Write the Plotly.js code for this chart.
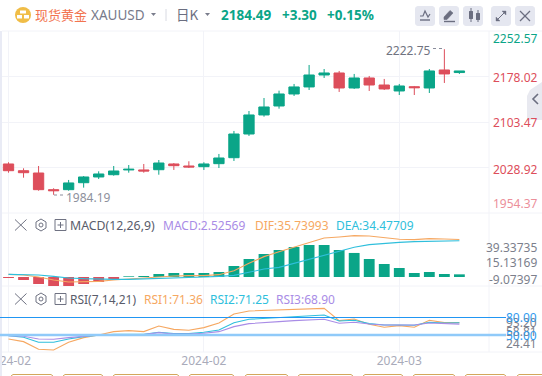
<!DOCTYPE html>
<html><head><meta charset="utf-8">
<script src="https://cdn.plot.ly/plotly-3.0.1.min.js"></script>
<style>html,body{margin:0;padding:0;background:#fff;overflow:hidden}#c{width:542px;height:376px}</style>
</head><body><div id="c"></div>
<script>
const index=[0,1,2,3,4,5,6,7,8,9,10,11,12,13,14,15,16,17,18,19,20,21,22,23,24,25,26,27,28,29,30];
const open=[2034.7,2023.7,2019.9,1992.6,1992.6,2004,2013.4,2017.1,2024.9,2024.9,2025.3,2034.7,2031.4,2030.3,2035.2,2045,2083.8,2115,2129.7,2149.4,2160.9,2180.5,2183.8,2159.2,2175.6,2164.1,2154.3,2161.3,2159.2,2188.7,2184.49];
const high=[2037.5,2027.6,2031.4,1994.9,2008.5,2015,2022.7,2031.4,2033,2034.7,2041.2,2036.3,2039.1,2037.5,2051.1,2088.8,2121.5,2142.8,2154.8,2165.8,2196.9,2190.3,2187.1,2182.2,2178.9,2174,2165.8,2162.5,2190.3,2222.75,2187.1];
const low=[2020.4,2012.2,1990.9,1984.19,1990.9,1995.9,2010.1,2015.5,2020.4,2020.4,2017.1,2024.9,2028.1,2024.9,2028.1,2039.6,2080.6,2112.2,2125.3,2146.1,2155.9,2175.6,2152.7,2157.6,2154.3,2155.9,2147.7,2147.7,2151,2167.4,2182.2];
const close=[2023.7,2020.4,1992.6,1990.9,2003.6,2013.4,2018.3,2023.2,2026,2023.2,2036.3,2031.9,2029.8,2034.7,2044.5,2083.8,2115,2128.1,2149.4,2160.9,2180.5,2183.8,2159.2,2175.6,2164.1,2157.6,2162.5,2159.7,2187.1,2182.2,2187.1];
const macdHist=[-0.95,-2.86,-6.67,-8.57,-8.57,-6.67,-4.76,-1.9,0.64,0.95,2.86,3.81,3.81,3.81,4.76,10.48,17.15,21.9,25.7,28.6,30.5,30.5,25.7,22.9,17.15,12.4,8.57,3.81,4.76,2.86,2.53];
const dif=[2.54,1.9,0,-2.86,-4.76,-4.76,-4.13,-2.86,-1.9,-0.95,0.32,0.95,1.27,1.27,2.22,6.03,13,19.4,24.1,28.3,32.7,37.1,38.1,39.4,39.1,37.5,35.9,35.6,36.5,36.2,35.74];
const dea=[2.54,2.54,1.9,0.64,-0.95,-1.59,-2.22,-2.22,-2.22,-1.9,-1.59,-0.95,-0.64,0,0.64,1.59,4.45,7.62,9.2,13,16.8,21,25.1,28.3,30.8,32.1,33,33.7,34,34.3,34.48];
const rsi1=[43.07,38.45,25.16,24,37.3,45.4,50,55.8,57.5,55.8,65.6,59.8,58.1,62.7,70.8,86.4,91.6,92.7,93.9,94.5,95.6,96.2,74.8,77.7,68.5,63.3,66.2,63.3,75.4,71.4,71.36];
const rsi2=[48.84,45.96,37.29,37.29,43.07,47.11,49.42,51.16,51.16,51.16,54.62,52.31,52.31,54.62,58.67,71.38,77.15,78.89,80.62,81.77,83.5,84.66,74.26,75.42,69.64,67.33,67.33,66.75,71.95,70.8,71.25];
const rsi3=[48.84,47.69,43.07,42.49,45.38,47.69,50,50.58,50.58,50.58,54.04,51.73,51.73,52.89,55.78,64.44,69.64,71.95,73.11,74.84,75.78,77.15,70.22,71.95,69.06,67.33,67.33,67.33,70.8,69.64,68.9];
const priceTicks=[2252.57,2178.02,2103.47,2028.92,1954.37];
const macdTicks=["39.33735","15.13169","-9.07397"];
const rsiTicks=["93.20","58.81","24.41"];
const rsiLevels=["80.00","50.00"];
const dateTicks=[0,13,26];
const dateLabels=["2024-02","2024-02","2024-03"];

const W=542,H=376,PW=489;
const GREEN="#0aa588",RED="#dd4e5b",GRID="#f2f3f8",ORANGE="#f6a862",CYAN="#2fbfdc",PURPLE="#a98ce6";
const px=x=>x/PW, py=y=>1-y/H;
const FONT='"Noto Sans","Noto Sans CJK SC",sans-serif';
const annotations=[],shapes=[];
function T(text,x,y,size,color,anchor,bold,family){annotations.push({text:bold?'<b>'+text+'</b>':text,xref:'paper',yref:'paper',x:px(x),y:py(y),xanchor:anchor||'left',yanchor:'middle',showarrow:false,font:{size:size,color:color,family:family||FONT},borderpad:0,borderwidth:0,align:anchor||'left'});}
function path(pts,opt){const d=pts.map((p,i)=>(i?'L':'M')+px(p[0])+','+py(p[1])).join(' ')+(opt&&opt.close?' Z':'');shapes.push({type:'path',xref:'paper',yref:'paper',path:d,line:{color:(opt&&opt.color)||'#777',width:opt&&opt.width!==undefined?opt.width:1,dash:(opt&&opt.dash)||'solid'},fillcolor:(opt&&opt.fill)||'rgba(0,0,0,0)',layer:(opt&&opt.layer)||'above'});}
function L(x0,y0,x1,y1,color,width,dash,layer){path([[x0,y0],[x1,y1]],{color,width,dash,layer});}
function round(x0,y0,x1,y1,r,fill){const a=[];const n=4;const arc=(cx,cy,s)=>{for(let i=0;i<=n;i++){const t=s+i/n*Math.PI/2;a.push([cx+r*Math.cos(t),cy+r*Math.sin(t)]);}};arc(x1-r,y0+r,-Math.PI/2);arc(x1-r,y1-r,0);arc(x0+r,y1-r,Math.PI/2);arc(x0+r,y0+r,Math.PI);path(a,{close:true,fill,width:0,color:fill});}

// frame lines
[31,213,286,352].forEach(y=>L(2,y,W,y,GRID,1,'solid','below'));
L(489,31,489,352,GRID,1,'solid','below');
round(-2,31,2,376,0.5,'#e9ebf5');
// RSI level lines
L(0,317.5,506,317.5,'#2196f3',1);
L(0,335,506,335,'#90caf9',2.5);
// leaders
L(433,48.5,443,48.5,'#8a8d9c',1,'dot');
L(54,195,64,195,'#8a8d9c',1,'dot');
// collapse tab
path([[542,82],[530,90],[527,96],[527,120],[542,120]],{close:true,fill:'#e8e9f0',width:0,color:'#e8e9f0'});
path([[538,94],[533,99],[538,104]],{color:'#6b6e80',width:1.6});
// header
shapes.push({type:'circle',xref:'paper',yref:'paper',x0:px(15),x1:px(31),y0:py(23),y1:py(7),fillcolor:'#f0bd47',line:{width:0}});
[[20,10.5,26,13.5],[17,15,22,18.5],[24,15,29,18.5]].forEach(r=>round(r[0],r[1],r[2],r[3],0.4,'#fff'));
path([[151,13],[156,13],[153.5,16]],{close:true,fill:'#7a7d8c',color:'#7a7d8c',width:0});
path([[205,13],[210,13],[207.5,16]],{close:true,fill:'#7a7d8c',color:'#7a7d8c',width:0});
L(166,9,166,21,'#d8dae2',1);
[[415,435],[439,459],[463,483],[491,511],[515,535]].forEach(b=>round(b[0],6,b[1],26,3,'#e5e7f0'));
const ic='#6b6e80';
path([[420,16],[423,16],[425,11],[428,17],[430,14]],{color:ic,width:1.2});L(420,20,430,20,ic,1.4);
path([[444,17],[450,10.5],[453,13],[447,19.5],[444,19.5]],{close:true,fill:ic,color:ic,width:0.6});L(444,21.5,455,21.5,ic,1.4);
round(469,11,473,19,0.5,ic);L(471,8,471,22,ic,1);round(476,13,480,20,0.5,ic);L(478,10,478,22,ic,1);
L(497,20,505,12,ic,1);path([[502,11],[506,11],[506,15]],{close:true,fill:ic,color:ic,width:0.4});path([[496,17],[496,21],[500,21]],{close:true,fill:ic,color:ic,width:0.4});
L(520,11,530,21,ic,1.2);L(530,11,520,21,ic,1.2);
// pane icons
[[225],[299]].forEach(r=>{const y=r[0];const c='#6f7282';
 L(15,y-5.5,26.5,y+5.5,c,1);L(26.5,y-5.5,15,y+5.5,c,1);
 path([[41,y-6],[46,y-3],[46,y+3],[41,y+6],[36,y+3],[36,y-3]],{close:true,color:c,width:1});
 shapes.push({type:'circle',xref:'paper',yref:'paper',x0:px(39),x1:px(43),y0:py(y+2),y1:py(y-2),line:{color:c,width:1}});
 path([[55,y-5.5],[66,y-5.5],[66,y+5.5],[55,y+5.5]],{close:true,color:c,width:1});
 L(57.5,y,63.5,y,c,1);L(60.5,y-3,60.5,y+3,c,1);
});
// bottom buttons
[[11,53],[63,103],[113,179],[189,234],[245,288],[298,353],[363,403],[413,455],[465,506],[517,560]].forEach(b=>path([[b[0],378],[b[0],376],[b[0]+2,374.5],[b[1]-2,374.5],[b[1],376],[b[1],378]],{color:'#d3a75c',width:1}));

// texts
const CJK='"Noto Sans CJK SC",sans-serif';
T('现货黄金',35,14.5,13,'#f2744f','left',false,CJK);
T('XAUUSD',91,15,13.5,'#777a8a');
T('日K',176,14,13.5,'#6b6e80','left',false,CJK);
T('2184.49',221,14.5,13.5,GREEN,'left',true);
T('+3.30',282,14.5,13.5,GREEN,'left',true);
T('+0.15%',327,14.5,13.5,GREEN,'left',true);
const axColors=[GREEN,RED,RED,RED,'#ec8f9a'],axY=[38.5,78,122.5,169.5,204];
priceTicks.forEach((v,i)=>T(v.toFixed(2),493,axY[i],12,axColors[i]));
T('2222.75',386,51,12,'#70737f');
T('1984.19',66,198,12,'#8d909c');
T('MACD(12,26,9)',70,225,12.3,'#595c6b');
T('MACD:2.52569',163,225,12,PURPLE);
T('DIF:35.73993',255,225,12,ORANGE);
T('DEA:34.47709',336,225,12,CYAN);
T('RSI(7,14,21)',70,299,12,'#595c6b');
T('RSI1:71.36',144,299,12,ORANGE);
T('RSI2:71.25',210,299,12,CYAN);
T('RSI3:68.90',276,299,12,PURPLE);
[247.7,262.7,279].forEach((y,i)=>T(macdTicks[i],537,y,12,'#7c7f8c','right'));
[322,331.5,343.5].forEach((y,i)=>T(rsiTicks[i],537,y,12,'#7c7f8c','right'));
[317.5,335].forEach((y,i)=>T(rsiLevels[i],537,y,12,'#2f9bef','right'));

const xr=[-0.566,31.97];
const dom=(a,b)=>[py(b),py(a)];
const grid={showgrid:true,gridcolor:GRID,gridwidth:1,zeroline:false,showline:false,ticks:'',showticklabels:false};
const traces=[
 {type:'candlestick',x:index,open:open,high:high,low:low,close:close,xaxis:'x',yaxis:'y',whiskerwidth:0,
  increasing:{line:{color:GREEN,width:1},fillcolor:GREEN},decreasing:{line:{color:RED,width:1},fillcolor:RED},hoverinfo:'skip'},
 {type:'bar',x:index,y:macdHist,xaxis:'x2',yaxis:'y2',width:0.72,marker:{color:macdHist.map(v=>v<0?RED:GREEN),line:{width:0}},hoverinfo:'skip'},
 {type:'scatter',mode:'lines',x:index,y:dif,xaxis:'x2',yaxis:'y2',line:{color:ORANGE,width:1.1},hoverinfo:'skip'},
 {type:'scatter',mode:'lines',x:index,y:dea,xaxis:'x2',yaxis:'y2',line:{color:CYAN,width:1.1},hoverinfo:'skip'},
 {type:'scatter',mode:'lines',x:index,y:rsi1,xaxis:'x3',yaxis:'y3',line:{color:ORANGE,width:1.1},hoverinfo:'skip'},
 {type:'scatter',mode:'lines',x:index,y:rsi2,xaxis:'x3',yaxis:'y3',line:{color:CYAN,width:1.1},hoverinfo:'skip'},
 {type:'scatter',mode:'lines',x:index,y:rsi3,xaxis:'x3',yaxis:'y3',line:{color:PURPLE,width:1.1},hoverinfo:'skip'}
];
const xbase=Object.assign({},grid,{range:xr,tickmode:'array',tickvals:dateTicks,ticktext:dateLabels,rangeslider:{visible:false}});
const layout={width:W,height:H,margin:{l:0,r:W-PW,t:0,b:0,pad:0},paper_bgcolor:'#fff',plot_bgcolor:'rgba(0,0,0,0)',showlegend:false,boxgap:0.02,bargap:0.27,
 font:{family:FONT},
 xaxis:Object.assign({},xbase,{domain:[0,1],anchor:'y'}),
 xaxis2:Object.assign({},xbase,{domain:[0,1],anchor:'y2'}),
 xaxis3:Object.assign({},xbase,{domain:[0,1],anchor:'y3',showticklabels:true,ticklabeloverflow:'allow',tickfont:{size:12,color:'#a9abba',family:FONT},ticklen:0,ticks:''}),
 yaxis:Object.assign({},grid,{domain:dom(31,213),range:[1954.37,2252.57],tickmode:'array',tickvals:priceTicks}),
 yaxis2:Object.assign({},grid,{domain:dom(213,286),range:[-8.57,60.95],showgrid:false}),
 yaxis3:Object.assign({},grid,{domain:dom(286,352),range:[20.5,134.9],showgrid:false}),
 annotations:annotations,shapes:shapes};
Plotly.newPlot('c',traces,layout,{staticPlot:true,displayModeBar:false});
</script></body></html>
